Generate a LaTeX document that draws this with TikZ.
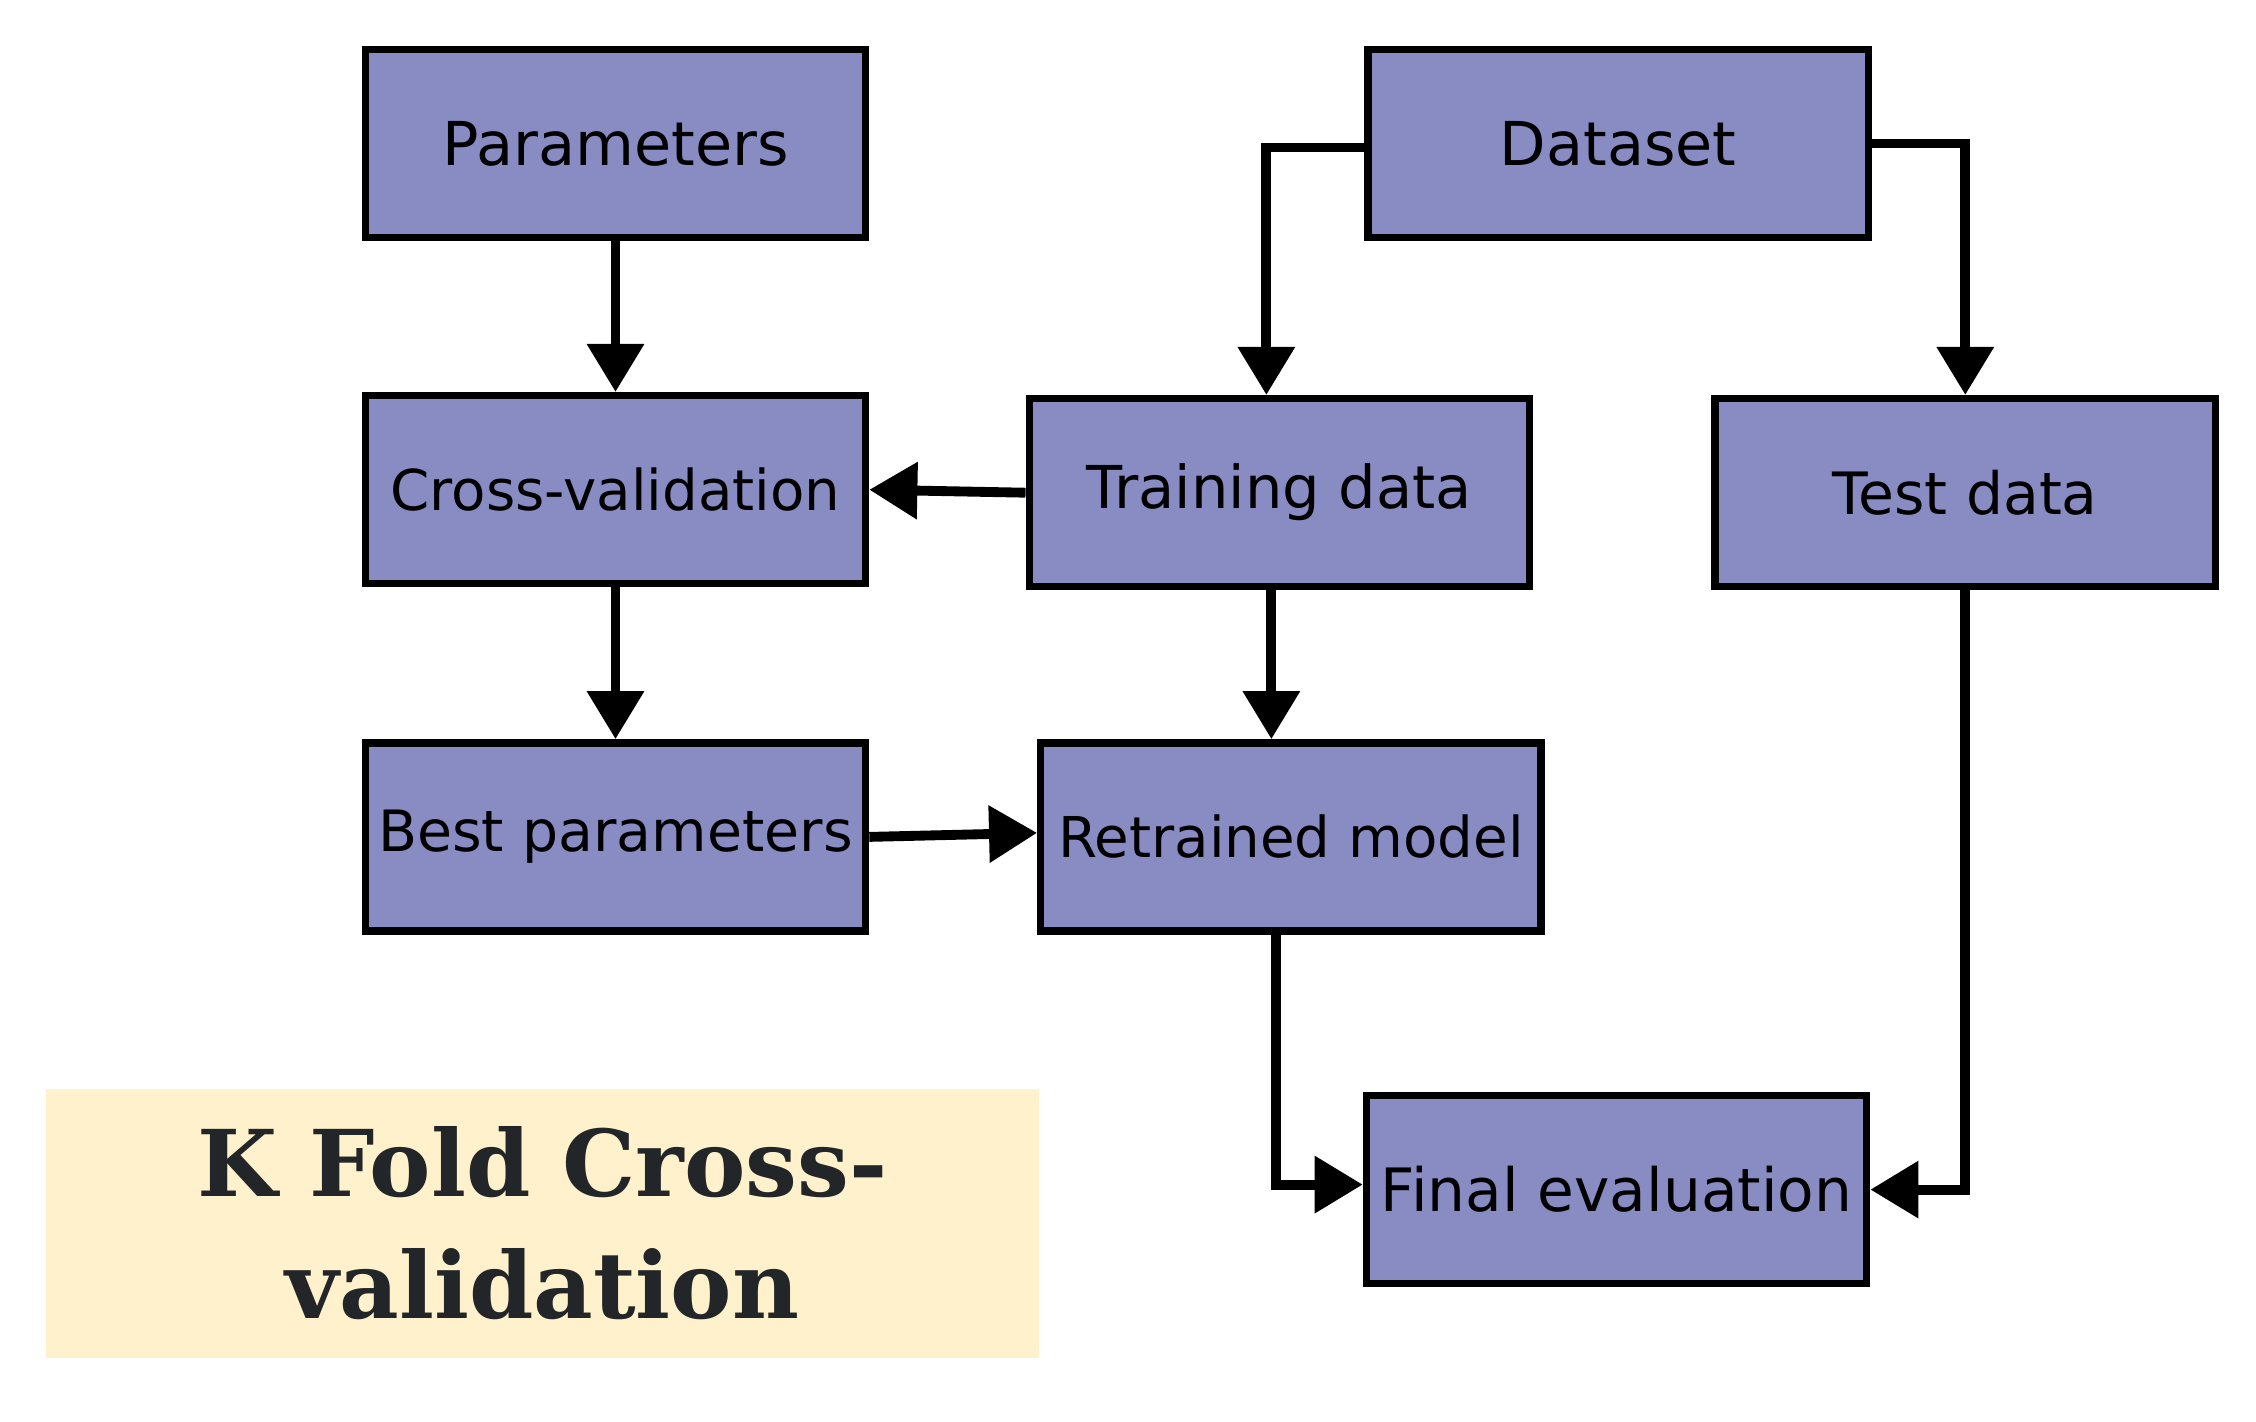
\documentclass[tikz,border=0pt]{standalone}
\usepackage{fontspec}
\setmainfont{DejaVu Sans}
\newfontfamily\titlefont{DejaVu Serif}
\usepackage{tikz}
\usetikzlibrary{positioning,arrows.meta}
\definecolor{boxblue}{RGB}{137,140,195}
\definecolor{titlebg}{RGB}{255,241,204}
\definecolor{titleink}{RGB}{35,38,41}
\tikzset{
  stage/.style={
    draw,
    line width=2.1pt,
    fill=boxblue,
    minimum width=5cm,
    minimum height=1.88cm,
    inner sep=0pt,
    font=\fontsize{#1}{20pt}\selectfont
  },
  stage/.default=16.5pt,
  flow/.style={
    line width=2.8pt,
    -{Triangle[length=4.8mm,width=5.5mm]}
  },
  banner/.style={
    fill=titlebg,
    text=titleink,
    minimum width=9.93cm,
    minimum height=2.69cm,
    align=center,
    font=\titlefont\bfseries\fontsize{26.2pt}{34.7pt}\selectfont
  }
}

\begin{document}
\begin{tikzpicture}[x=0.01cm,y=-0.01cm]
        \useasboundingbox (0,0) rectangle (2256,1422);
        \node [stage=17.2pt] (Par) at (615.5,143.5) {Parameters};
        \node [stage=16pt, on grid, below=3.46cm of Par] (CV) {Cross-validation};
        \node [stage=16.2pt, on grid, below=3.47cm of CV] (Best) {Best parameters};
        \node [stage=17.2pt, on grid, right=10.02cm of Par] (Data) {Dataset};
        \node [stage=16.8pt, on grid, below left=3.49cm and 3.385cm of Data] (Train) {Training data};
        \node [stage=16.6pt, on grid, right=6.855cm of Train] (Test) {Test data};
        \node [stage=16pt, on grid, below right=3.44cm and 0.115cm of Train] (Model) {Retrained model};
        \node [stage=17pt, on grid, below right=3.525cm and 3.255cm of Model] (Final) {Final evaluation};
        \node [banner] (Title) at (542.5,1223.5) {K Fold Cross-\\validation};
        \draw [flow] (Par) -- (CV);
        \draw [flow] (CV) -- (Best);
        \draw [flow] (Train.west) -- (CV.east);
        \draw [flow] ([yshift=-0.04cm]Data.west) -| ([xshift=-0.13cm]Train.north);
        \draw [flow] (Data.east) -| (Test.north);
        \draw [flow] ([xshift=-0.08cm]Train.south) -- ([xshift=-0.08cm]Train.south |- Model.north);
        \draw [flow] (Best.east) -- ([yshift=0.04cm]Model.west);
        \draw [flow] ([xshift=-0.15cm]Model.south) |- ([yshift=0.05cm]Final.west);
        \draw [flow] (Test.south) |- (Final.east);
      \end{tikzpicture}
\end{document}
